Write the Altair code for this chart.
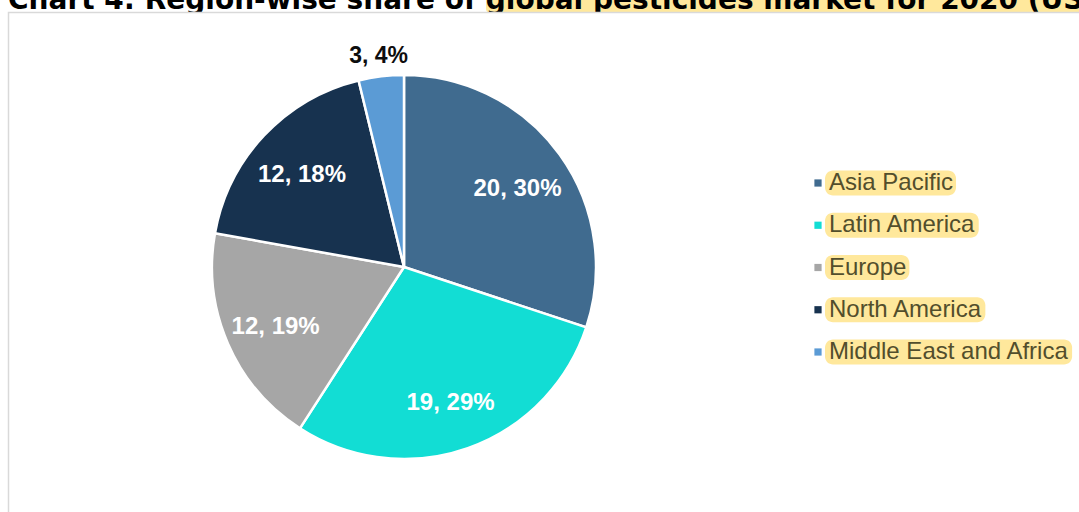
import altair as alt
import pandas as pd

title_text = "Chart 4: Region-wise share of global pesticides market for 2020 (US$ bn)"
regions = ["Asia Pacific", "Latin America", "Europe", "North America", "Middle East and Africa"]
values = [19.8, 19.1, 12.3, 12.1, 2.5]
labels = ["20, 30%", "19, 29%", "12, 19%", "12, 18%", "3, 4%"]
colors = ["#406B8F", "#12DDD4", "#A6A6A6", "#17324F", "#5B9BD5"]

# approximate Arial advance widths (per 1000 em) to size legend highlights
_W = {"A": 667, "s": 500, "i": 222, "a": 556, " ": 278, "P": 667, "c": 500, "f": 278,
      "L": 556, "t": 278, "n": 556, "m": 833, "e": 556, "r": 333, "E": 667, "u": 556,
      "o": 556, "p": 556, "N": 722, "h": 556, "M": 833, "d": 556, "l": 222}
LEG_FS = 24


def text_w(s, fs):
    return sum(_W.get(ch, 556) for ch in s) * fs / 1000.0


df = pd.DataFrame({
    "region": regions,
    "value": values,
    "label": labels,
    "order": list(range(len(regions))),
})
df["hl0"] = 825
df["hl1"] = [829 + text_w(r, LEG_FS) + 3 for r in regions]

W, H = 1079, 512
CX, CY, R = 404, 267, 192

base = alt.Chart(df)

title_hl = alt.Chart(pd.DataFrame({"a": [0]})).mark_rect(color="#FFE89C", cornerRadius=4).encode(
    x=alt.value(486), x2=alt.value(1085), y=alt.value(-5), y2=alt.value(13)
)
title = alt.Chart(pd.DataFrame({"t": [title_text]})).mark_text(
    align="left", baseline="alphabetic", font="DejaVu Sans", fontWeight="bold",
    fontSize=28, color="#000000"
).encode(text="t:N", x=alt.value(8), y=alt.value(9))

frame = alt.Chart(pd.DataFrame({"a": [0]})).mark_rect(
    fill="white", stroke="#D9D9D9", strokeWidth=1.5
).encode(x=alt.value(8.5), x2=alt.value(1100), y=alt.value(12.5), y2=alt.value(540))

theta = alt.Theta("value:Q", stack=True)
order = alt.Order("order:Q")

pie = base.mark_arc(radius=R, stroke="white", strokeWidth=2.5).encode(
    theta=theta, order=order,
    color=alt.Color("region:N", scale=alt.Scale(domain=regions, range=colors), legend=None),
    x=alt.value(CX), y=alt.value(CY),
)

inner = base.mark_text(radius=140, font="Liberation Sans", fontWeight="bold",
                       fontSize=24, color="white", align="center", baseline="middle").encode(
    theta=theta, order=order,
    text=alt.condition(alt.datum.order < 4, alt.Text("label:N"), alt.value("")),
    x=alt.value(CX), y=alt.value(CY + 4),
)
outer = base.mark_text(radius=213, font="Liberation Sans", fontWeight="bold",
                       fontSize=23, color="#0D0D0D", align="center", baseline="middle").encode(
    theta=theta, order=order,
    text=alt.condition(alt.datum.order >= 4, alt.Text("label:N"), alt.value("")),
    x=alt.value(CX), y=alt.value(CY),
)

yscale = alt.Scale(domain=[0, 4], range=[183, 352])

leg_hl = base.mark_rect(color="#FFE89C", cornerRadius=8, height=25).encode(
    x=alt.X("hl0:Q", scale=None), x2="hl1:Q",
    y=alt.Y("order:Q", scale=yscale, axis=None),
)
leg_sq = base.mark_square(size=52, opacity=1).encode(
    x=alt.value(818),
    y=alt.Y("order:Q", scale=yscale, axis=None),
    color=alt.Color("region:N", scale=alt.Scale(domain=regions, range=colors), legend=None),
)
leg_txt = base.mark_text(align="left", baseline="middle", font="Liberation Sans",
                         fontSize=LEG_FS, color="#524E2C").encode(
    x=alt.value(829),
    y=alt.Y("order:Q", scale=yscale, axis=None),
    text="region:N",
)

chart = alt.layer(title_hl, title, frame, pie, inner, outer, leg_hl, leg_sq, leg_txt).properties(
    width=W, height=H, padding=0, autosize=alt.AutoSizeParams(type="none")
).configure_view(stroke=None)

chart.save("out.html", embed_options={"renderer": "svg", "actions": False})
